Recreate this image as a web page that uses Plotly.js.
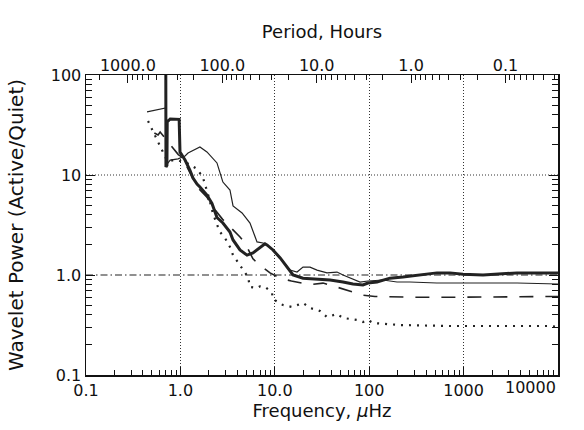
<!DOCTYPE html>
<html><head><meta charset="utf-8">
<script src="https://cdn.plot.ly/plotly-3.0.1.min.js"></script>
<style>body{margin:0;background:#fff}#plot{width:584px;height:430px}</style>
</head><body><div id="plot"></div>
<script>
// ---- data (frequency in microHz, wavelet power ratio Active/Quiet) ----
const thickFreq  = [0.70, 0.703, 0.72, 0.725, 0.78, 0.90, 0.97, 0.99, 1.05, 1.12, 1.26, 1.36, 1.50, 1.61, 1.91, 2.16, 2.44, 2.82, 3.35, 3.61, 4.28, 5.08, 5.87, 6.97, 7.87, 8.26, 9.57, 11.4, 13.5, 15.6, 19.9, 28.0, 38.5, 52.8, 67.3, 85.9, 97, 121, 166, 228, 321, 522, 718, 986, 1607, 2260, 3680, 6000, 10000];
const thickPower = [150, 12.0, 12.5, 34, 36.3, 36.3, 36.0, 17, 15.5, 14.1, 11.2, 9.3, 8.1, 7.6, 6.3, 5.2, 3.76, 3.31, 2.69, 2.24, 1.78, 1.58, 1.66, 1.9, 2.05, 2.0, 1.78, 1.48, 1.2, 1.0, 0.93, 0.912, 0.891, 0.851, 0.813, 0.794, 0.83, 0.85, 0.93, 0.955, 1.0, 1.05, 1.05, 1.02, 1.0, 1.02, 1.05, 1.05, 1.05];

const thinFreq  = [0.443, 0.608, 0.70, 0.705, 0.78, 0.944, 1.12, 1.205, 1.61, 1.91, 2.16, 2.44, 2.63, 2.82, 3.35, 3.61, 4.5, 5.46, 6.48, 7.5, 8.26, 9.57, 11.9, 14.5, 17.2, 19.9, 23.6, 28.0, 35.7, 45.6, 52.8, 62.6, 80, 97, 140, 197, 270, 520, 1600, 3680, 10000];
const thinPower = [42.7, 45.7, 46.8, 12.5, 14.1, 14.5, 15.5, 16.6, 19.1, 17.0, 15.1, 13.2, 10.5, 8.5, 7.08, 4.9, 4.17, 3.31, 2.14, 2.09, 2.0, 1.78, 1.41, 1.12, 1.07, 1.2, 1.2, 1.12, 1.05, 1.07, 1.0, 0.933, 0.851, 0.871, 0.891, 0.851, 0.851, 0.832, 0.832, 0.832, 0.813];

const dashFreq  = [0.53, 0.58, 0.61, 0.95, 1.05, 1.2, 1.5, 1.91, 2.2, 2.8, 3.4, 4.28, 4.83, 5.87, 6.64, 8.9, 11.4, 15, 23.6, 32.4, 41, 58, 85, 115, 300, 1000, 3000, 10000];
const dashPower = [26.3, 25.1, 26.9, 16, 15, 11.5, 7.6, 6.0, 4.8, 3.6, 3.0, 2.4, 2.09, 1.45, 1.3, 1.05, 0.93, 0.87, 0.8, 0.83, 0.78, 0.71, 0.63, 0.61, 0.6, 0.6, 0.6, 0.61];

const dotFreq  = [0.454, 0.476, 0.72, 0.95, 1.2, 1.5, 1.73, 2.0, 2.2, 2.44, 2.63, 2.97, 3.35, 3.61, 4.28, 4.6, 5.2, 5.46, 6.48, 6.97, 7.87, 8.47, 9.34, 9.57, 10.8, 12.2, 15.2, 17.6, 19.9, 23.6, 30.1, 35.7, 45.6, 52.8, 62.6, 74.3, 85.9, 97, 110, 212, 718, 2430, 8220, 10000];
const dotPower = [34.7, 31.6, 14, 14, 13, 11.5, 9.5, 6.0, 4.2, 3.2, 2.69, 2.34, 1.91, 1.58, 1.26, 1.12, 0.955, 0.759, 0.741, 0.77, 0.759, 0.72, 0.661, 0.575, 0.537, 0.501, 0.479, 0.501, 0.525, 0.468, 0.437, 0.38, 0.407, 0.372, 0.363, 0.355, 0.339, 0.355, 0.331, 0.316, 0.309, 0.309, 0.309, 0.302];

// axis labels
const freqTickVals  = [0.1, 1, 10, 100, 1000, 10000];
const freqTickText  = ["0.1", "1.0", "10.0", "100", "1000", "10000"];
const powerTickVals = [0.1, 1, 10, 100];
const powerTickText = ["0.1", "1.0", "10", "100"];
const periodLabels  = [1000, 100, 10, 1, 0.1];
const periodText    = ["1000.0", "100.0", "10.0", "1.0", "0.1"];

// period (hours) -> frequency (microHz)
const hoursToMicroHz = p => 1e6 / (p * 3600);

const decades = [0.1, 1, 10, 100, 1000];
const minorFreq = [];
decades.forEach(d => { for (let k = 2; k <= 9; k++) minorFreq.push(d * k); });
const minorPower = [];
[0.1, 1, 10].forEach(d => { for (let k = 2; k <= 9; k++) minorPower.push(d * k); });
const minorPeriodFreq = [];
[0.01, 0.1, 1, 10, 100, 1000].forEach(d => {
  for (let k = 2; k <= 9; k++) {
    const f = hoursToMicroHz(d * k);
    if (f > 0.1 && f < 10000) minorPeriodFreq.push(f);
  }
});

const FAM = "DejaVu Sans, Verdana, sans-serif";
const TICKFONT = {family: FAM, size: 16, color: "#111"};
const TITLEFONT = {family: FAM, size: 18, color: "#111"};

// last frequency label is right-aligned to the axis end (as in the original)
const lastIdx = freqTickVals.length - 1;
const shownFreqText = freqTickText.map((t, i) => i === lastIdx ? "" : t);

const traces = [
  {x: dotFreq, y: dotPower, mode: "lines", line: {color: "#222", width: 2.2, dash: "2px,6px"}, hoverinfo: "skip"},
  {x: dashFreq, y: dashPower, mode: "lines", line: {color: "#222", width: 1.6, dash: "14px,12px"}, hoverinfo: "skip"},
  {x: thinFreq, y: thinPower, mode: "lines", line: {color: "#222", width: 1.2}, hoverinfo: "skip"},
  {x: thickFreq, y: thickPower, mode: "lines", line: {color: "#222", width: 3}, hoverinfo: "skip"},
  // same series placed on the period axis (invisible) so that the top axis is drawn
  {x: thickFreq, y: thickPower, xaxis: "x2", mode: "lines", opacity: 0, line: {width: 0}, hoverinfo: "skip"}
];

const layout = {
  width: 584, height: 430,
  margin: {l: 86, r: 26, t: 75, b: 55},
  paper_bgcolor: "#fff", plot_bgcolor: "#fff",
  showlegend: false,
  font: TICKFONT,
  xaxis: {
    type: "log", range: [-1, 4],
    tickmode: "array", tickvals: freqTickVals, ticktext: shownFreqText,
    ticks: "inside", ticklen: 8, tickcolor: "#111", tickwidth: 1,
    minor: {tickmode: "array", tickvals: minorFreq, ticks: "inside", ticklen: 5, tickcolor: "#111", showgrid: false},
    showgrid: true, gridcolor: "#333", griddash: "1px,2px", gridwidth: 1,
    showline: true, linecolor: "#111", linewidth: 1.5, mirror: true,
    zeroline: false, tickfont: TICKFONT,
    title: {text: "Frequency, <i>μ</i>Hz", font: TITLEFONT, standoff: 5}
  },
  xaxis2: {
    type: "log", range: [-1, 4], overlaying: "x", anchor: "y", side: "top",
    tickmode: "array", tickvals: periodLabels.map(hoursToMicroHz), ticktext: periodText,
    ticks: "inside", ticklen: 8, tickcolor: "#111",
    minor: {tickmode: "array", tickvals: minorPeriodFreq, ticks: "inside", ticklen: 5, tickcolor: "#111", showgrid: false},
    showgrid: false, showline: false, zeroline: false, tickfont: TICKFONT,
    title: {text: "Period, Hours", font: TITLEFONT, standoff: 12}
  },
  yaxis: {
    type: "log", range: [-1, 2],
    tickmode: "array", tickvals: powerTickVals, ticktext: powerTickText,
    ticks: "inside", ticklen: 9, tickcolor: "#111",
    minor: {tickmode: "array", tickvals: minorPower, ticks: "inside", ticklen: 6, tickcolor: "#111", showgrid: false},
    showgrid: false, showline: true, linecolor: "#111", linewidth: 1.5, mirror: "ticks",
    zeroline: false, tickfont: TICKFONT,
    title: {text: "Wavelet Power (Active/Quiet)", font: {family: FAM, size: 20, color: "#111"}, standoff: 22}
  },
  annotations: [
    {xref: "x", yref: "paper", x: Math.log10(freqTickVals[lastIdx]), y: 0, xanchor: "right", yanchor: "top",
     yshift: -1, text: freqTickText[lastIdx], showarrow: false, font: TICKFONT}
  ],
  shapes: [
    {type: "line", xref: "paper", x0: 0, x1: 1, yref: "y", y0: 10, y1: 10, line: {color: "#333", width: 1, dash: "1px,2px"}, layer: "below"},
    {type: "line", xref: "paper", x0: 0, x1: 1, yref: "y", y0: 1, y1: 1, line: {color: "#222", width: 1.1, dash: "7px,3px,1.5px,3px"}, layer: "below"}
  ]
};

Plotly.newPlot("plot", traces, layout, {staticPlot: true, displayModeBar: false});
</script>
</body></html>
